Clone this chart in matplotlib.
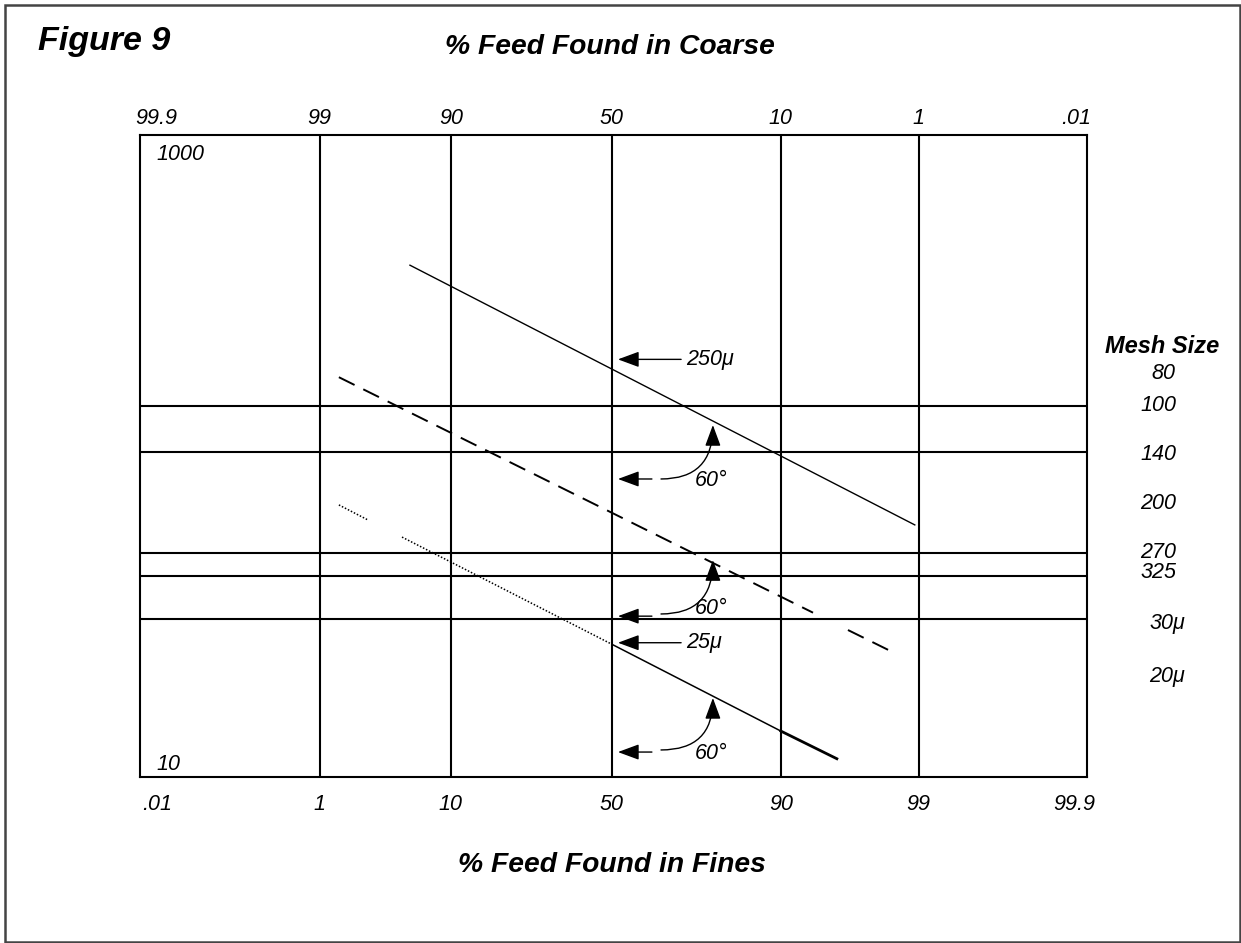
import numpy as np
import matplotlib
matplotlib.use("Agg")
import matplotlib.pyplot as plt
from matplotlib.patches import FancyArrowPatch, Rectangle
from statistics import NormalDist

plt.rcParams['font.family'] = ['Liberation Sans', 'DejaVu Sans']

ND = NormalDist()

# ---------------------------------------------------------------- data
# probability rulings, % of feed found in fines (coarse = 100 - fines)
fines_grid = [1, 10, 50, 90, 99]
fines_labels = ['1', '10', '50', '90', '99']
coarse_labels = ['99', '90', '50', '10', '1']

# horizontal rulings (particle size, microns)
mesh_lines = [143, 103, 50, 42.4, 31]
mesh_labels = ['80', '100', '140', '200', '270', '325', '30\u03bc', '20\u03bc']
mesh_label_y = [181, 144, 101, 71, 50, 43.5, 30, 20.5]

# diagonal partition lines, (% fines, microns)
line_250_x = [5.40, 98.92]
line_250_y = [393, 61.0]

dash_a_x = [1.49, 93.64]
dash_a_y = [176, 32.5]
dash_b_x = [96.33, 98.19]
dash_b_y = [28.7, 24.9]

dot_a_x = [1.49, 2.61]
dot_a_y = [70.4, 63.2]
dot_b_x = [4.74, 50]
dot_b_y = [55.9, 25.9]
solid_a_x = [50, 90]
solid_a_y = [25.9, 13.9]
solid_b_x = [90, 95.6]
solid_b_y = [13.9, 11.4]

# pointers
size_labels = ['250\u03bc', '25\u03bc']
size_label_y = [200, 26.2]
angle_arrow_y = [84.8, 31.7, 11.96]
angle_start_y = [84.8, 32.2, 12.14]
angle_tip_y = [124.9, 47.4, 17.63]
angle_text_y = [83.6, 33.4, 11.8]


# ---------------------------------------------------------------- scale
K_LO, K_HI = 125.7, 131.8   # hand drawn chart paper: slightly wider on the right


def fwd(p):
    p = np.clip(np.asarray(p, float) / 100.0, 1e-9, 1 - 1e-9)
    z = np.vectorize(ND.inv_cdf, otypes=[float])(p)
    return np.where(z < 0, z * K_LO, z * K_HI)


def inv(u):
    u = np.asarray(u, float)
    z = np.where(u < 0, u / K_LO, u / K_HI)
    return np.vectorize(ND.cdf, otypes=[float])(z) * 100.0


W, H = 1241, 943
fig = plt.figure(figsize=(W / 100, H / 100), dpi=100)
fig.patches.append(Rectangle((5 / W, 1.5 / H), 1235 / W, 937 / H, transform=fig.transFigure,
                             fill=False, edgecolor='#444444', linewidth=1.8))

ax = fig.add_axes([140 / W, (H - 777) / H, 947 / W, 642 / H])
ax.set_xscale('function', functions=(fwd, inv))
ax.set_yscale('log')
ax.set_xlim(0.00867, 99.98433)
ax.set_ylim(10, 1000)
ax.set_xticks([])
ax.set_yticks([])
ax.minorticks_off()
ax.tick_params(which='both', length=0, labelbottom=False, labelleft=False)
for s in ax.spines.values():
    s.set_linewidth(1.5)

for p in fines_grid:
    ax.axvline(p, color='black', lw=1.5)
for m in mesh_lines:
    ax.axhline(m, color='black', lw=1.5)

ax.plot(line_250_x, line_250_y, color='black', lw=1.0)
ax.plot(dash_a_x, dash_a_y, color='black', lw=1.4, dashes=(9, 5))
ax.plot(dash_b_x, dash_b_y, color='black', lw=1.4, dashes=(9, 5))
ax.plot(dot_a_x, dot_a_y, color='black', lw=1.1, dashes=(1, 1.2))
ax.plot(dot_b_x, dot_b_y, color='black', lw=1.1, dashes=(1, 1.2))
ax.plot(solid_a_x, solid_a_y, color='black', lw=1.1)
ax.plot(solid_b_x, solid_b_y, color='black', lw=2.0)

lab = dict(fontsize=15.5, style='italic', ha='center', va='center')
xt = ax.get_xaxis_transform()
for p, fl, cl in zip(fines_grid, fines_labels, coarse_labels):
    ax.text(p, -0.043, fl, transform=xt, **lab)
    ax.text(p, 1.025, cl, transform=xt, **lab)
ax.text(0.018, -0.043, '.01', transform=ax.transAxes, **lab)
ax.text(0.987, -0.043, '99.9', transform=ax.transAxes, **lab)
ax.text(0.017, 1.025, '99.9', transform=ax.transAxes, **lab)
ax.text(0.989, 1.025, '.01', transform=ax.transAxes, **lab)
ax.text(0.043, 0.969, '1000', transform=ax.transAxes, **lab)
ax.text(0.030, 0.020, '10', transform=ax.transAxes, **lab)

yt = ax.get_yaxis_transform()
ax.text(1.079, 0.671, 'Mesh Size', transform=ax.transAxes, fontsize=17,
        style='italic', weight='bold', ha='center', va='center')
for name, y in zip(mesh_labels, mesh_label_y):
    xx = 1.085 if '\u03bc' in name else (1.081 if name == '80' else 1.075)
    ax.text(xx, y, name, transform=yt, **lab)

head = dict(arrowstyle='-|>,head_length=0.65,head_width=0.24', mutation_scale=20,
            color='black', lw=1.0, shrinkA=0, shrinkB=0)

for name, y in zip(size_labels, size_label_y):
    ax.add_patch(FancyArrowPatch((70.0, y), (51.8, y), **head))
    ax.text(71.3, y, name, fontsize=15.5, style='italic', ha='left', va='center')

for ya, ys, yt_, ytx in zip(angle_arrow_y, angle_start_y, angle_tip_y, angle_text_y):
    ax.add_patch(FancyArrowPatch((61.9, ya), (51.8, ya), **head))
    ax.add_patch(FancyArrowPatch((64.5, ys), (77.8, yt_),
                                 connectionstyle='angle3,angleA=0,angleB=90', **head))
    ax.text(77.4, ytx, '60\u00b0', fontsize=15.5, style='italic', ha='center', va='center')

fig.text(38 / W, 1 - 50 / H, 'Figure 9', fontsize=24.5, style='italic', weight='bold',
         ha='left', va='baseline')
fig.text(610 / W, 1 - 47 / H, '% Feed Found in Coarse', fontsize=20.3, style='italic',
         weight='bold', ha='center', va='center')
fig.text(612 / W, 1 - 865 / H, '% Feed Found in Fines', fontsize=20.3, style='italic',
         weight='bold', ha='center', va='center')

fig.savefig('out.png', dpi=100)
